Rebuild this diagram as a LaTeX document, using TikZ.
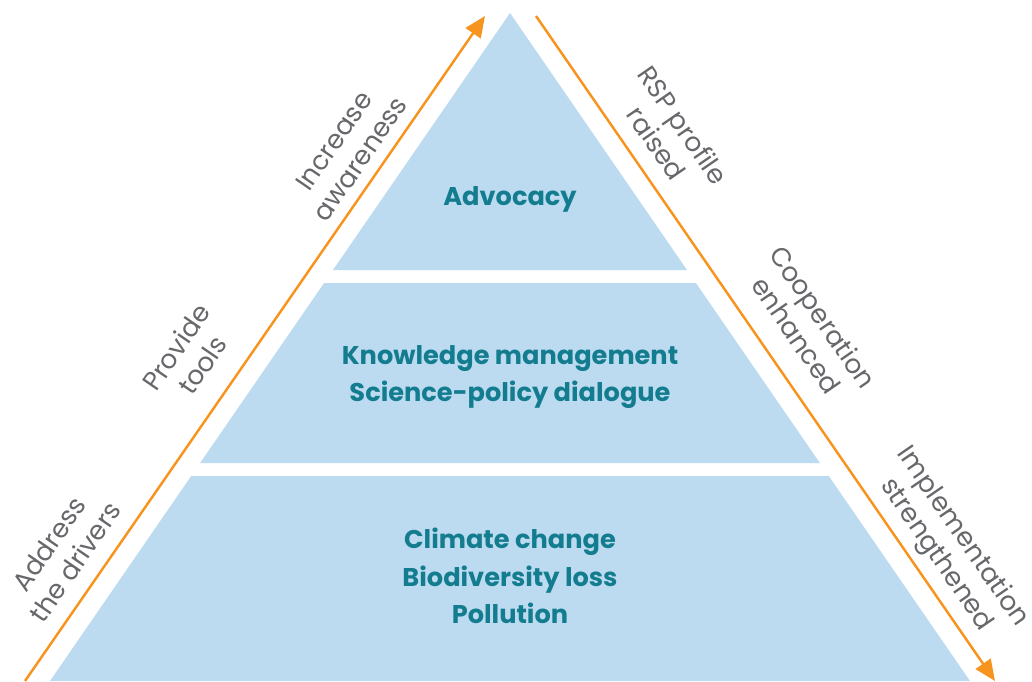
\documentclass[tikz,border=0pt]{standalone}
\usepackage{fontspec}
\setmainfont{Poppins}
\usetikzlibrary{arrows.meta}
\definecolor{bandblue}{HTML}{BCDBF0}
\definecolor{tealtext}{HTML}{137D8F}
\definecolor{graytext}{HTML}{67686B}
\definecolor{arroworange}{HTML}{F7941D}
\tikzset{
  band/.style={fill=bandblue, draw=none},
  bandtext/.style={text=tealtext, font=\fontsize{14.6}{21.5}\selectfont\bfseries, align=center},
  sidetext/.style={text=graytext, font=\fontsize{15}{18.2}\selectfont, align=center},
  sidearrow/.style={line width=1.4pt, color=arroworange, -{Triangle[length=0.42cm, width=0.36cm]}}
}
\begin{document}
\begin{tikzpicture}[x=0.02cm, y=-0.02cm]
		%%%%% START %%%%%
		\useasboundingbox (0, 0) rectangle (1032, 681);
		
		% pyramid bands
		\draw[band] (510, 13) -- (687, 270) -- (333, 270) -- cycle;
		\draw[band] (324.1, 283) -- (695.9, 283) -- (819.9, 463) -- (200.1, 463) -- cycle;
		\draw[band] (191.2, 476) -- (828.8, 476) -- (970, 681) -- (50, 681) -- cycle;
		
		\node[bandtext] (advocacy) at (510, 199) {Advocacy};
		\node[bandtext] (knowledge) at (510, 377) {Knowledge management\\Science-policy dialogue};
		\node[bandtext] (drivers) at (510, 576) {Climate change\\Biodiversity loss\\Pollution};
		
		% arrows along the sides
		\coordinate (upstart) at (25, 681);
		\coordinate (upend) at (485, 16);
		\coordinate (downstart) at (536, 16);
		\coordinate (downend) at (995, 681);
		\draw[sidearrow] (upstart) -- (upend);
		\draw[sidearrow] (downstart) -- (downend);
		
		\node[sidetext, rotate=55.45] (awareness) at (347, 150) {Increase\\awareness};
		\node[sidetext, rotate=55.45] (tools) at (189, 356) {Provide\\tools};
		\node[sidetext, rotate=55.45] (address) at (62, 553) {Address\\the drivers};
		
		\node[sidetext, rotate=-55.45] (profile) at (670, 134) {RSP profile\\raised};
		\node[sidetext, rotate=-55.45] (cooperation) at (810, 326) {Cooperation\\enhanced};
		\node[sidetext, rotate=-55.45] (implementation) at (949, 546) {Implementation\\strengthened};
		
		%%%%% END %%%%%
\end{tikzpicture}
\end{document}
